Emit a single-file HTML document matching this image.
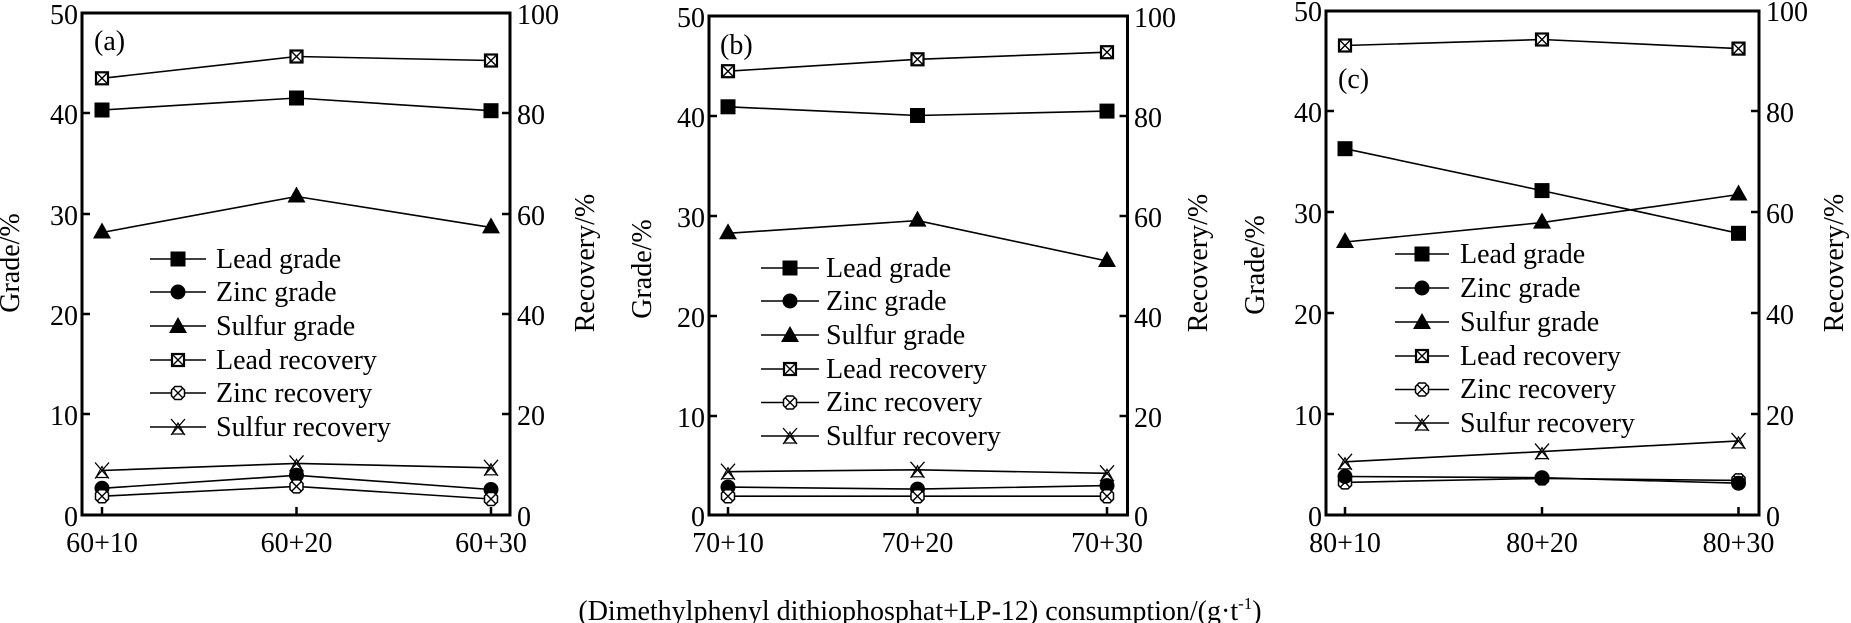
<!DOCTYPE html>
<html><head><meta charset="utf-8"><style>
html,body{margin:0;padding:0;background:#fff;}
svg{display:block;}
text{font-family:"Liberation Serif",serif;font-size:28px;fill:#000;}
</style></head><body>
<svg width="1851" height="623" viewBox="0 0 1851 623" xmlns="http://www.w3.org/2000/svg">
<defs>
<g id="sq"><rect x="-7.5" y="-7.5" width="15" height="15" fill="#000"/></g>
<g id="ci"><circle r="7.5" fill="#000"/></g>
<g id="tr"><polygon points="0,-10 9,6 -9,6" fill="#000"/></g>
<g id="bx"><rect x="-6" y="-6" width="12" height="12" fill="#fff" stroke="#000" stroke-width="2.2"/><path d="M-5,-5L5,5M5,-5L-5,5" stroke="#000" stroke-width="1.4"/></g>
<g id="cx"><polygon points="-3,-6.5 3,-6.5 6.5,-3 6.5,3 3,6.5 -3,6.5 -6.5,3 -6.5,-3" fill="#fff" stroke="#000" stroke-width="1.5"/><path d="M-5,-5L5,5M5,-5L-5,5" stroke="#000" stroke-width="1.4"/></g>
<g id="sx"><path d="M-7,-8L7,8M7,-8L-7,8" stroke="#000" stroke-width="1.3" fill="none"/><polygon points="0,-4 6,7 -6,7" fill="none" stroke="#000" stroke-width="1.2"/></g>
</defs>

<!-- ============ Panel A ============ -->
<g>
<rect x="82" y="13" width="428" height="502" fill="none" stroke="#000" stroke-width="3"/>
<g stroke="#000" stroke-width="2.5">
<path d="M82,113h8M82,214h8M82,314h8M82,414h8M510,113h-8M510,214h-8M510,314h-8M510,414h-8M102,515v-8M296.5,515v-8M491,515v-8"/>
</g>
<g text-anchor="end"><text x="78" y="24">50</text><text x="78" y="124">40</text><text x="78" y="225">30</text><text x="78" y="325">20</text><text x="78" y="425">10</text><text x="78" y="526">0</text></g>
<g><text x="517" y="24">100</text><text x="517" y="124">80</text><text x="517" y="225">60</text><text x="517" y="325">40</text><text x="517" y="425">20</text><text x="517" y="526">0</text></g>
<g text-anchor="middle"><text x="102" y="552">60+10</text><text x="296.5" y="552">60+20</text><text x="491" y="552">60+30</text></g>
<text x="22" y="263" text-anchor="middle" transform="rotate(-90 22 263)" dy="-0.1em">Grade/%</text>
<text x="594" y="263" text-anchor="middle" transform="rotate(-90 594 263)">Recovery/%</text>
<text x="94" y="50">(a)</text>
<g fill="none" stroke="#000" stroke-width="1.6">
<polyline points="102,78.3 296.5,56.5 491,60.5"/>
<polyline points="102,110 296.5,98 491,110.7"/>
<polyline points="102,232.5 296.5,196.5 491,227.4"/>
<polyline points="102,470.5 296.5,463.4 491,467.8"/>
<polyline points="102,488.3 296.5,475.3 491,489.5"/>
<polyline points="102,496.2 296.5,486.4 491,499"/>
</g>
<use href="#bx" x="102" y="78.3"/><use href="#bx" x="296.5" y="56.5"/><use href="#bx" x="491" y="60.5"/>
<use href="#sq" x="102" y="110"/><use href="#sq" x="296.5" y="98"/><use href="#sq" x="491" y="110.7"/>
<use href="#tr" x="102" y="232.5"/><use href="#tr" x="296.5" y="196.5"/><use href="#tr" x="491" y="227.4"/>
<use href="#sx" x="102" y="470.5"/><use href="#sx" x="296.5" y="463.4"/><use href="#sx" x="491" y="467.8"/>
<use href="#ci" x="102" y="488.3"/><use href="#ci" x="296.5" y="475.3"/><use href="#ci" x="491" y="489.5"/>
<use href="#cx" x="102" y="496.2"/><use href="#cx" x="296.5" y="486.4"/><use href="#cx" x="491" y="499"/>
<g stroke="#000" stroke-width="1.6"><path d="M150,259h56M150,292h56M150,326h56M150,360h56M150,393h56M150,427h56"/></g>
<use href="#sq" x="178" y="259"/><use href="#ci" x="178" y="292"/><use href="#tr" x="178" y="327"/><use href="#bx" x="178" y="360"/><use href="#cx" x="178" y="393"/><use href="#sx" x="178" y="427"/>
<g><text x="216" y="268">Lead grade</text><text x="216" y="301">Zinc grade</text><text x="216" y="335">Sulfur grade</text><text x="216" y="369">Lead recovery</text><text x="216" y="402">Zinc recovery</text><text x="216" y="436">Sulfur recovery</text></g>
</g>

<!-- ============ Panel B ============ -->
<g>
<rect x="709" y="16" width="418.5" height="499" fill="none" stroke="#000" stroke-width="3"/>
<g stroke="#000" stroke-width="2.5">
<path d="M709,116h8M709,216h8M709,316h8M709,416h8M1127.5,116h-8M1127.5,216h-8M1127.5,316h-8M1127.5,416h-8M728,515v-8M917.5,515v-8M1107,515v-8"/>
</g>
<g text-anchor="end"><text x="705" y="27">50</text><text x="705" y="127">40</text><text x="705" y="227">30</text><text x="705" y="327">20</text><text x="705" y="427">10</text><text x="705" y="526">0</text></g>
<g><text x="1134" y="27">100</text><text x="1134" y="127">80</text><text x="1134" y="227">60</text><text x="1134" y="327">40</text><text x="1134" y="427">20</text><text x="1134" y="526">0</text></g>
<g text-anchor="middle"><text x="728" y="552">70+10</text><text x="917.5" y="552">70+20</text><text x="1107" y="552">70+30</text></g>
<text x="651" y="269" text-anchor="middle" transform="rotate(-90 651 269)">Grade/%</text>
<text x="1207" y="263" text-anchor="middle" transform="rotate(-90 1207 263)">Recovery/%</text>
<text x="720" y="54">(b)</text>
<g fill="none" stroke="#000" stroke-width="1.6">
<polyline points="728,71.2 917.5,59.3 1107,52.2"/>
<polyline points="728,106.8 917.5,115.5 1107,111.1"/>
<polyline points="728,233.3 917.5,220.6 1107,261"/>
<polyline points="728,471.7 917.5,469.8 1107,473.3"/>
<polyline points="728,487.1 917.5,489.1 1107,485.6"/>
<polyline points="728,496.2 917.5,496.2 1107,496.2"/>
</g>
<use href="#bx" x="728" y="71.2"/><use href="#bx" x="917.5" y="59.3"/><use href="#bx" x="1107" y="52.2"/>
<use href="#sq" x="728" y="106.8"/><use href="#sq" x="917.5" y="115.5"/><use href="#sq" x="1107" y="111.1"/>
<use href="#tr" x="728" y="233.3"/><use href="#tr" x="917.5" y="220.6"/><use href="#tr" x="1107" y="261"/>
<use href="#sx" x="728" y="471.7"/><use href="#sx" x="917.5" y="469.8"/><use href="#sx" x="1107" y="473.3"/>
<use href="#ci" x="728" y="487.1"/><use href="#ci" x="917.5" y="489.1"/><use href="#ci" x="1107" y="485.6"/>
<use href="#cx" x="728" y="496.2"/><use href="#cx" x="917.5" y="496.2"/><use href="#cx" x="1107" y="496.2"/>
<g stroke="#000" stroke-width="1.6"><path d="M761,268h58M761,301h58M761,335h58M761,369h58M761,402.5h58M761,436h58"/></g>
<use href="#sq" x="790" y="268"/><use href="#ci" x="790" y="301"/><use href="#tr" x="790" y="336"/><use href="#bx" x="790" y="369"/><use href="#cx" x="790" y="402.5"/><use href="#sx" x="790" y="436"/>
<g><text x="826" y="277">Lead grade</text><text x="826" y="310">Zinc grade</text><text x="826" y="344">Sulfur grade</text><text x="826" y="378">Lead recovery</text><text x="826" y="411">Zinc recovery</text><text x="826" y="445">Sulfur recovery</text></g>
</g>

<!-- ============ Panel C ============ -->
<g>
<rect x="1326" y="11" width="433" height="504" fill="none" stroke="#000" stroke-width="3"/>
<g stroke="#000" stroke-width="2.5">
<path d="M1326,111h8M1326,212h8M1326,313h8M1326,414h8M1759,111h-8M1759,212h-8M1759,313h-8M1759,414h-8M1345,515v-8M1542,515v-8M1738.5,515v-8"/>
</g>
<g text-anchor="end"><text x="1322" y="21">50</text><text x="1322" y="122">40</text><text x="1322" y="223">30</text><text x="1322" y="324">20</text><text x="1322" y="425">10</text><text x="1322" y="526">0</text></g>
<g><text x="1766" y="21">100</text><text x="1766" y="122">80</text><text x="1766" y="223">60</text><text x="1766" y="324">40</text><text x="1766" y="425">20</text><text x="1766" y="526">0</text></g>
<g text-anchor="middle"><text x="1345" y="552">80+10</text><text x="1542" y="552">80+20</text><text x="1738.5" y="552">80+30</text></g>
<text x="1264" y="265" text-anchor="middle" transform="rotate(-90 1264 265)">Grade/%</text>
<text x="1843" y="263" text-anchor="middle" transform="rotate(-90 1843 263)">Recovery/%</text>
<text x="1338" y="88">(c)</text>
<g fill="none" stroke="#000" stroke-width="1.6">
<polyline points="1345,45.5 1542,39.5 1738.5,48.6"/>
<polyline points="1345,148.7 1542,190.6 1738.5,233.3"/>
<polyline points="1345,242 1542,222.6 1738.5,194.5"/>
<polyline points="1345,461.8 1542,451.6 1738.5,440.9"/>
<polyline points="1345,476.5 1542,477.7 1738.5,483.2"/>
<polyline points="1345,482.4 1542,478.4 1738.5,480.4"/>
</g>
<use href="#bx" x="1345" y="45.5"/><use href="#bx" x="1542" y="39.5"/><use href="#bx" x="1738.5" y="48.6"/>
<use href="#sq" x="1345" y="148.7"/><use href="#sq" x="1542" y="190.6"/><use href="#sq" x="1738.5" y="233.3"/>
<use href="#tr" x="1345" y="242"/><use href="#tr" x="1542" y="222.6"/><use href="#tr" x="1738.5" y="194.5"/>
<use href="#sx" x="1345" y="461.8"/><use href="#sx" x="1542" y="451.6"/><use href="#sx" x="1738.5" y="440.9"/>
<use href="#cx" x="1345" y="482.4"/><use href="#cx" x="1542" y="478.4"/><use href="#cx" x="1738.5" y="480.4"/>
<use href="#ci" x="1345" y="476.5"/><use href="#ci" x="1542" y="477.7"/><use href="#ci" x="1738.5" y="483.2"/>
<g stroke="#000" stroke-width="1.6"><path d="M1395,254h54M1395,288h54M1395,322h54M1395,356h54M1395,389.5h54M1395,423h54"/></g>
<use href="#sq" x="1422" y="254"/><use href="#ci" x="1422" y="288"/><use href="#tr" x="1422" y="323"/><use href="#bx" x="1422" y="356"/><use href="#cx" x="1422" y="389.5"/><use href="#sx" x="1422" y="423"/>
<g><text x="1460" y="263">Lead grade</text><text x="1460" y="297">Zinc grade</text><text x="1460" y="331">Sulfur grade</text><text x="1460" y="365">Lead recovery</text><text x="1460" y="398">Zinc recovery</text><text x="1460" y="432">Sulfur recovery</text></g>
</g>

<text x="920" y="620" text-anchor="middle">(Dimethylphenyl dithiophosphat+LP-12) consumption/(g·t<tspan font-size="17" dy="-11">-1</tspan><tspan dy="11">)</tspan></text>
</svg>
</body></html>
